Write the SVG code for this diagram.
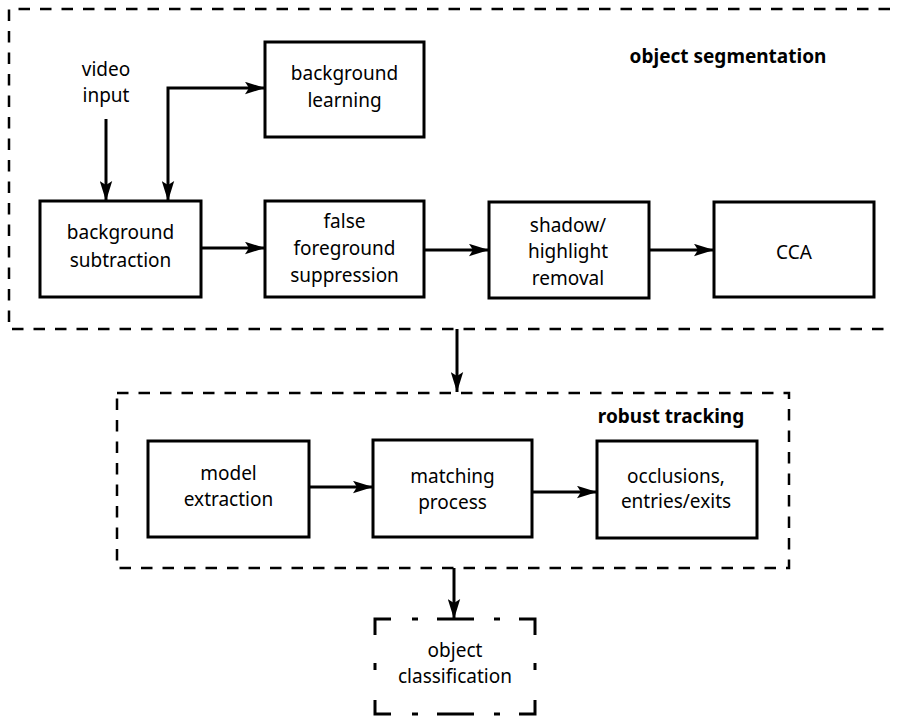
<svg xmlns="http://www.w3.org/2000/svg" width="899" height="720" viewBox="0 0 899 720">
<defs>
<style>
.box{fill:#fff;stroke:#000;stroke-width:3}
.grp{fill:none;stroke:#000;stroke-width:2.5;stroke-dasharray:11.5 10}
.cls{fill:none;stroke:#000;stroke-width:3}
.con{fill:none;stroke:#000;stroke-width:3;marker-end:url(#ah)}
.lbl{font-family:"Noto Sans","Open Sans",sans-serif;font-size:19px;fill:#000;text-anchor:middle}
.ttl{font-family:"Noto Sans","Open Sans",sans-serif;font-size:19px;font-weight:bold;fill:#000;text-anchor:middle}
</style>
<marker id="ah" markerUnits="userSpaceOnUse" markerWidth="20" markerHeight="13" refX="20" refY="6.5" orient="auto-start-reverse" viewBox="0 0 20 13">
<path d="M0,0.3 L20,6.5 L0,12.7 L4,6.5 z" fill="#000"/>
</marker>
</defs>
<g id="object-segmentation">
<path class="grp" d="M890,9 H9 V329 H890"/>
<text class="ttl" x="728" y="63">object segmentation</text>
</g>
<g id="robust-tracking">
<rect class="grp" x="117" y="393" width="672" height="175"/>
<text class="ttl" x="671" y="423">robust tracking</text>
</g>
<g id="video-input">
<text class="lbl" x="106" y="76">video</text>
<text class="lbl" x="106" y="102">input</text>
</g>
<g id="background-learning">
<rect class="box" x="265" y="42" width="159" height="95"/>
<text class="lbl" x="344.5" y="80">background</text>
<text class="lbl" x="344.5" y="107">learning</text>
</g>
<g id="background-subtraction">
<rect class="box" x="40" y="201" width="161" height="96"/>
<text class="lbl" x="120.5" y="239">background</text>
<text class="lbl" x="120.5" y="267">subtraction</text>
</g>
<g id="false-foreground-suppression">
<rect class="box" x="265" y="201" width="159" height="96"/>
<text class="lbl" x="344.5" y="228">false</text>
<text class="lbl" x="344.5" y="255">foreground</text>
<text class="lbl" x="344.5" y="282">suppression</text>
</g>
<g id="shadow-highlight-removal">
<rect class="box" x="489" y="202" width="160" height="96"/>
<text class="lbl" x="568" y="232">shadow/</text>
<text class="lbl" x="568" y="258">highlight</text>
<text class="lbl" x="568" y="285">removal</text>
</g>
<g id="cca">
<rect class="box" x="714" y="202" width="160" height="95"/>
<text class="lbl" x="794" y="259">CCA</text>
</g>
<g id="model-extraction">
<rect class="box" x="148" y="441" width="161" height="96"/>
<text class="lbl" x="228.5" y="480">model</text>
<text class="lbl" x="228.5" y="506">extraction</text>
</g>
<g id="matching-process">
<rect class="box" x="373" y="440" width="159" height="97"/>
<text class="lbl" x="452.5" y="483">matching</text>
<text class="lbl" x="452.5" y="509">process</text>
</g>
<g id="occlusions-entries-exits">
<rect class="box" x="597" y="441" width="160" height="97"/>
<text class="lbl" x="676" y="483">occlusions,</text>
<text class="lbl" x="676" y="508">entries/exits</text>
</g>
<g id="object-classification">
<path class="cls" d="M375,635 V619 H391 M412,619 H418 M437,619 H474 M494,619 H500 M519,619 H535 V635 M535,663 V670 M535,700 V714 H519 M500,714 H494 M474,714 H437 M418,714 H412 M391,714 H375 V700 M375,670 V663"/>
<text class="lbl" x="455" y="657">object</text>
<text class="lbl" x="455" y="683">classification</text>
</g>
<g id="connectors">
<path class="con" d="M106,119 V201"/>
<path class="con" style="marker-start:url(#ah)" d="M168,201 V88 H265"/>
<path class="con" d="M201,248 H265"/>
<path class="con" d="M424,250 H489"/>
<path class="con" d="M649,250 H714"/>
<path class="con" d="M457,329 V392"/>
<path class="con" d="M309,487 H373"/>
<path class="con" d="M532,492 H597"/>
<path class="con" d="M454,568 V619"/>
</g>
</svg>
